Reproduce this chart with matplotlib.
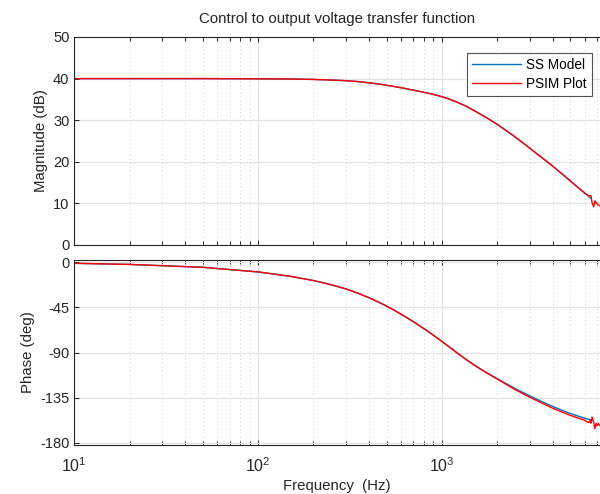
import matplotlib
matplotlib.use("Agg")
import matplotlib.pyplot as plt
from matplotlib.ticker import LogLocator, NullFormatter, FixedLocator

plt.rcParams['font.family'] = ['Liberation Sans', 'DejaVu Sans']
plt.rcParams['mathtext.fontset'] = 'custom'
plt.rcParams['mathtext.rm'] = 'Liberation Sans'
plt.rcParams['axes.unicode_minus'] = False

# --- data ---
freq_ss = [10, 20, 50, 100, 150, 200, 250, 300, 350, 400, 450, 500, 550, 600, 650, 700, 800, 900,
           1000, 1100, 1200, 1350, 1500, 1750, 2000, 2500, 3000, 3500, 4000, 4500, 5000, 5500,
           6000, 6500]
mag_ss = [40.0, 40.0, 40.0, 39.95, 39.9, 39.8, 39.65, 39.5, 39.28, 39.0, 38.72, 38.4, 38.1, 37.8,
          37.5, 37.22, 36.7, 36.2, 35.65, 35.05, 34.4, 33.4, 32.3, 30.6, 29.0, 26.0, 23.3, 21.0,
          19.0, 17.1, 15.4, 13.85, 12.45, 11.15]
phase_ss = [-1.0, -2.1, -5.0, -9.6, -14.0, -18.2, -22.4, -26.5, -30.9, -35.25, -39.5, -43.7, -47.8,
            -51.8, -55.65, -59.3, -66.3, -72.8, -78.9, -84.6, -89.9, -96.7, -102.5, -110.1, -116.0,
            -126.0, -133.2, -139.0, -143.8, -147.6, -150.8, -153.4, -155.6, -157.4]

freq_psim = [10, 20, 50, 100, 150, 200, 250, 300, 350, 400, 450, 500, 550, 600, 650, 700, 800, 900,
             1000, 1100, 1200, 1350, 1500, 1750, 2000, 2500, 3000, 3500, 4000, 4500, 5000, 5500,
             6000, 6200, 6300, 6420, 6480, 6560, 6700, 6800, 6900, 7000, 7100, 7250]
mag_psim = [40.0, 40.0, 40.0, 39.95, 39.9, 39.8, 39.65, 39.5, 39.28, 39.0, 38.72, 38.4, 38.1, 37.8,
            37.5, 37.22, 36.7, 36.2, 35.65, 35.05, 34.4, 33.4, 32.3, 30.6, 29.0, 26.0, 23.3, 21.0,
            19.0, 17.1, 15.4, 13.85, 12.45, 12.0, 11.8, 11.9, 11.8, 10.2, 9.2, 10.6, 10.2, 9.8,
            9.6, 9.4]
phase_psim = [-1.0, -2.1, -5.0, -9.6, -14.0, -18.2, -22.4, -26.5, -30.9, -35.25, -39.5, -43.7, -47.8,
              -51.8, -55.65, -59.3, -66.3, -72.8, -78.9, -84.6, -89.9, -96.8, -102.7, -110.3, -116.5,
              -127.0, -134.5, -140.5, -145.5, -149.4, -152.7, -155.4, -157.6, -159.5, -159.8,
              -157.5, -160.5, -154.3, -160.0, -166.0, -160.5, -163.0, -161.0, -163.0]

mag_ticks = [0, 10, 20, 30, 40, 50]
phase_ticks = [-180, -135, -90, -45, 0]

blue = '#0072BD'
red = '#FF0000'
ink = '#262626'

fig = plt.figure(figsize=(6, 4.94), dpi=100)
left = 74.3 / 600
width = 1.0 - left
ax1 = fig.add_axes([left, (494 - 245) / 494, width, 208 / 494])
ax2 = fig.add_axes([left, (494 - 445) / 494, width, 185 / 494])


def style_axis(ax):
    ax.set_xscale('log')
    ax.set_xlim(10, 7250)
    ax.xaxis.set_major_locator(LogLocator(base=10, numticks=10))
    ax.xaxis.set_minor_locator(LogLocator(base=10, subs=range(2, 10), numticks=20))
    ax.xaxis.set_minor_formatter(NullFormatter())
    ax.tick_params(which='both', direction='in', top=True, right=False,
                   labelsize=10.5, width=0.7, colors=ink)
    ax.tick_params(which='major', length=3.5)
    ax.tick_params(which='minor', length=2.8)
    ax.grid(True, which='major', color='#e3e3e3', linewidth=0.9, linestyle='-')
    ax.grid(True, which='minor', axis='x', color='#d0d0d0', linewidth=0.7, linestyle=(0, (1, 3)))
    ax.set_axisbelow(True)
    ax.spines['right'].set_visible(False)
    for s in ['left', 'top', 'bottom']:
        ax.spines[s].set_linewidth(0.8)
        ax.spines[s].set_color(ink)


style_axis(ax1)
style_axis(ax2)

ax1.plot(freq_ss, mag_ss, color=blue, linewidth=1.0, label='SS Model')
ax1.plot(freq_psim, mag_psim, color=red, linewidth=1.0, label='PSIM Plot')
ax1.set_ylim(0, 50)
ax1.yaxis.set_major_locator(FixedLocator(mag_ticks))
ax1.tick_params(axis='x', which='both', labelbottom=False)
ax1.set_ylabel('Magnitude (dB)', fontsize=10.8, color=ink, labelpad=4)
ax1.set_title('Control to output voltage transfer function', fontsize=10.8, color=ink, pad=10)
leg = ax1.legend(loc='upper right', bbox_to_anchor=(0.985, 0.9245), fontsize=9.8,
                 frameon=True, fancybox=False, edgecolor=ink, handlelength=3.6,
                 borderpad=0.4, labelspacing=0.35, handletextpad=0.35, borderaxespad=0)
leg.get_frame().set_linewidth(0.8)

ax2.plot(freq_ss, phase_ss, color=blue, linewidth=1.0)
ax2.plot(freq_psim, phase_psim, color=red, linewidth=1.0)
ax2.set_ylim(-182.3, 2.3)
ax2.yaxis.set_major_locator(FixedLocator(phase_ticks))
ax2.set_ylabel('Phase (deg)', fontsize=10.8, color=ink, labelpad=4)
ax2.set_xlabel('Frequency  (Hz)', fontsize=10.8, color=ink, labelpad=3)
ax2.tick_params(axis='x', which='major', pad=8, labelsize=11.5)

fig.savefig('out.png', dpi=100)
